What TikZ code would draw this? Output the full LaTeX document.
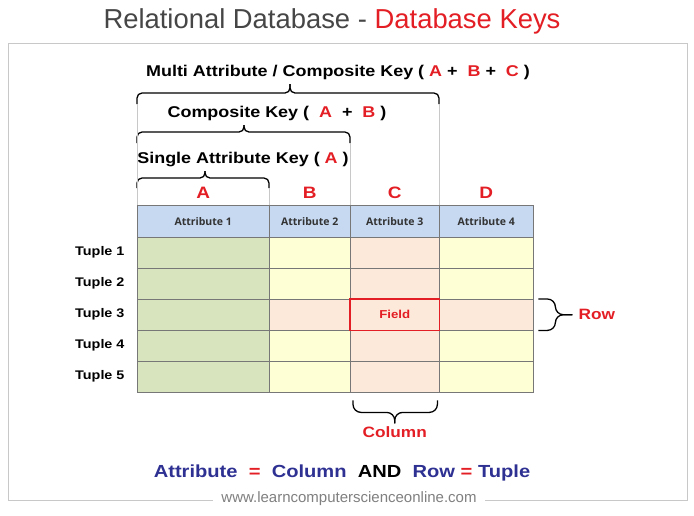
\documentclass[tikz,border=0pt]{standalone}
\usepackage{fontspec}
\setmainfont{Liberation Sans}
\newfontfamily\widefont[FakeStretch=1.15]{Liberation Sans}
\newfontfamily\headfont{Open Sans}
\usetikzlibrary{positioning,calc}

\definecolor{keyred}{HTML}{E31E24}
\definecolor{titlegray}{HTML}{464646}
\definecolor{framegray}{HTML}{C8C8C8}
\definecolor{gridgray}{HTML}{777777}
\definecolor{headblue}{HTML}{C6D9F1}
\definecolor{attrgreen}{HTML}{D7E4BD}
\definecolor{cellyellow}{HTML}{FFFFD5}
\definecolor{cellpeach}{HTML}{FDE9D9}
\definecolor{eqblue}{HTML}{2E3192}
\definecolor{urlgray}{HTML}{808080}

\begin{document}
\begin{tikzpicture}[
            x=1pt, y=-1pt,
            headcell/.style={draw=gridgray, fill=headblue, anchor=north west, minimum height=32pt, inner sep=0pt, font=\headfont\bfseries\fontsize{10.5}{12}\selectfont, text=black!80},
            cell/.style={draw=gridgray, anchor=north west, minimum height=31pt, inner sep=0pt},
            keytext/.style={font=\widefont\bfseries\fontsize{15.6}{17}\selectfont, anchor=base},
            colletter/.style={font=\widefont\bfseries\fontsize{16.5}{18}\selectfont, text=keyred},
            tuple/.style={font=\widefont\bfseries\fontsize{12.5}{14}\selectfont},
            sidelabel/.style={font=\widefont\bfseries\fontsize{15}{17}\selectfont, text=keyred},
            keybrace/.style={line width=1.3pt, rounded corners=5pt},
            guide/.style={draw=framegray, line width=0.8pt}
        ]
        \useasboundingbox (0,0) rectangle (694,515);

        % Title and frame
        \node[anchor=base, font=\fontsize{27.4}{31}\selectfont] (title) at (332,28) {\textcolor{titlegray}{Relational Database -} \textcolor{keyred}{Database Keys}};
        \draw[framegray, line width=0.8pt] (8,43) rectangle (687,500);
        \node[fill=white, inner xsep=8pt, inner ysep=1pt, text=urlgray, font=\fontsize{15}{17}\selectfont] (url) at (349,499) {www.learncomputerscienceonline.com};

        % Header row
        \foreach \c/\x/\w in {1/137/132, 2/269/81, 3/350/89, 4/439/94}
            \node[headcell, minimum width=\w pt] (h\c) at (\x,205) {Attribute \c};

        % Tuples
        \foreach \r in {1,...,5}
            \foreach \c/\x/\w/\f in {1/137/132/attrgreen, 2/269/81/cellyellow, 3/350/89/cellpeach, 4/439/94/cellyellow}{
                \ifnum\r=3 \ifnum\c>1 \def\f{cellpeach}\fi\fi
                \node[cell, minimum width=\w pt, fill=\f] (r\r-\c) at (\x,{237+31*(\r-1)}) {};
            }
        \foreach \r in {1,...,5}
            \node[tuple, left=9pt of r\r-1] (t\r) {Tuple \r};

        % Field
        \node[font=\widefont\bfseries\fontsize{11.5}{12}\selectfont, text=keyred] (field) at (r3-3) {Field};
        \draw[keyred, line width=1.5pt] (r3-3.north west) rectangle (r3-3.south east);

        % Column letters
        \node[colletter, above=3pt of h1] (la) {A};
        \node[colletter, above=3pt of h2] (lb) {B};
        \node[colletter, above=3pt of h3] (lc) {C};
        \node[colletter, above=3pt of h4] (ld) {D};

        % Keys
        \node[keytext] (multi) at (338,76) {Multi Attribute / Composite Key ( \textcolor{keyred}{A} + ~\textcolor{keyred}{B} + ~\textcolor{keyred}{C} )};
        \node[keytext] (comp) at (277,117) {Composite Key ( ~\textcolor{keyred}{A} ~+ ~\textcolor{keyred}{B} )};
        \node[keytext] (single) at (243,163) {Single Attribute Key ( \textcolor{keyred}{A} )};

        \coordinate (multi-l) at (137,104);
        \coordinate (multi-r) at (439,104);
        \coordinate (multi-m) at (290,93);
        \coordinate (multi-t) at (290,84);
        \draw[keybrace] (multi-l) |- (multi-m) -- (multi-t);
        \draw[keybrace] (multi-r) |- (multi-m) -- (multi-t);

        \coordinate (comp-l) at (137,143);
        \coordinate (comp-r) at (350,143);
        \coordinate (comp-m) at (244,132);
        \coordinate (comp-t) at (244,125);
        \draw[keybrace] (comp-l) |- (comp-m) -- (comp-t);
        \draw[keybrace] (comp-r) |- (comp-m) -- (comp-t);

        \coordinate (single-l) at (137,188);
        \coordinate (single-r) at (269,188);
        \coordinate (single-m) at (205,178);
        \coordinate (single-t) at (205,171);
        \draw[keybrace] (single-l) |- (single-m) -- (single-t);
        \draw[keybrace] (single-r) |- (single-m) -- (single-t);

        % Guide lines down to the header
        \draw[guide] (multi-l) -- (h1.north west);
        \draw[guide] (multi-r) -- (h4.north west);
        \draw[guide] (comp-r) -- (h3.north west);
        \draw[guide] (single-r) -- (h2.north west);

        % Row brace
        \coordinate (row-t) at ($(r3-4.north east)+(5,0)$);
        \coordinate (row-b) at ($(r3-4.south east)+(5,0)$);
        \coordinate (row-m) at ($(r3-4.east)+(22,0)$);
        \coordinate (row-tip) at ($(r3-4.east)+(39,0)$);
        \draw[keybrace, rounded corners=8pt] (row-t) -| (row-m) -- (row-tip);
        \draw[keybrace, rounded corners=8pt] (row-b) -| (row-m) -- (row-tip);
        \node[sidelabel, anchor=west, inner sep=0pt] (rowlbl) at ($(row-tip)+(6,0)$) {Row};

        % Column brace
        \coordinate (col-l) at ($(r5-3.south west)+(3,8)$);
        \coordinate (col-r) at ($(r5-3.south east)+(-2,8)$);
        \coordinate (col-m) at ($(r5-3.south)+(0,20)$);
        \coordinate (col-tip) at ($(r5-3.south)+(0,31)$);
        \draw[keybrace, rounded corners=8pt] (col-l) |- (col-m) -- (col-tip);
        \draw[keybrace, rounded corners=8pt] (col-r) |- (col-m) -- (col-tip);
        \node[sidelabel, anchor=north, inner sep=0pt] (collbl) at ($(col-tip)+(0,3)$) {Column};

        % Summary line
        \node[font=\widefont\bfseries\fontsize{17.5}{20}\selectfont, anchor=base] (summary) at (342,477)
        {\textcolor{eqblue}{Attribute} ~\textcolor{keyred}{=} ~\textcolor{eqblue}{Column} ~AND ~\textcolor{eqblue}{Row} \textcolor{keyred}{=} \textcolor{eqblue}{Tuple}};

        \end{tikzpicture}
\end{document}
